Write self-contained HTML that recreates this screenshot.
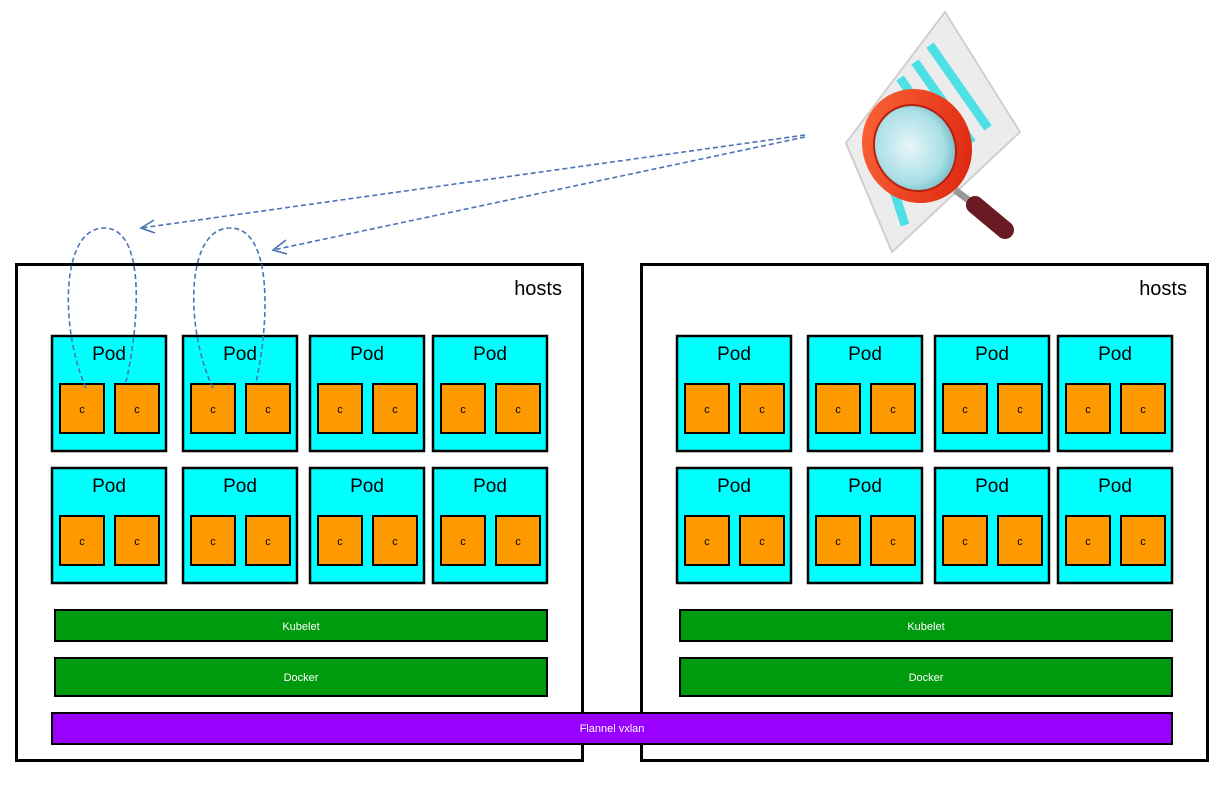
<!DOCTYPE html>
<html><head><meta charset="utf-8"><style>
html,body{margin:0;padding:0;background:#fff;}
svg{display:block;}
text{font-family:"Liberation Sans",sans-serif;}
.p{fill:#00ffff;stroke:#000;stroke-width:2.5}
.c{fill:#ff9900;stroke:#000;stroke-width:2}
.pt{font-size:19px;text-anchor:middle;fill:#000}
.ct{font-size:11px;text-anchor:middle;fill:#000}
</style></head><body>
<svg width="1228" height="798" viewBox="0 0 1228 798" xmlns="http://www.w3.org/2000/svg">
<defs>
<radialGradient id="lens" cx="45%" cy="45%" r="60%">
<stop offset="0" stop-color="#e8f6f8"/><stop offset="0.7" stop-color="#a9dfe6"/><stop offset="1" stop-color="#6fb7c2"/>
</radialGradient>
<linearGradient id="ring" x1="0" y1="0" x2="1" y2="1">
<stop offset="0" stop-color="#ff6a3a"/><stop offset="1" stop-color="#d8200c"/>
</linearGradient>
</defs>
<rect x="16.5" y="264.5" width="566" height="496" fill="#fff" stroke="#000" stroke-width="3"/>
<rect x="641.5" y="264.5" width="566" height="496" fill="#fff" stroke="#000" stroke-width="3"/>
<text x="562" y="295" font-size="20" text-anchor="end" fill="#000">hosts</text>
<text x="1187" y="295" font-size="20" text-anchor="end" fill="#000">hosts</text>

<g transform="translate(52,336)"><rect class="p" width="114" height="115"/><text class="pt" x="57" y="24">Pod</text><rect class="c" x="8" y="48" width="44" height="49"/><rect class="c" x="63" y="48" width="44" height="49"/><text class="ct" x="30" y="77">c</text><text class="ct" x="85" y="77">c</text></g>
<g transform="translate(183,336)"><rect class="p" width="114" height="115"/><text class="pt" x="57" y="24">Pod</text><rect class="c" x="8" y="48" width="44" height="49"/><rect class="c" x="63" y="48" width="44" height="49"/><text class="ct" x="30" y="77">c</text><text class="ct" x="85" y="77">c</text></g>
<g transform="translate(310,336)"><rect class="p" width="114" height="115"/><text class="pt" x="57" y="24">Pod</text><rect class="c" x="8" y="48" width="44" height="49"/><rect class="c" x="63" y="48" width="44" height="49"/><text class="ct" x="30" y="77">c</text><text class="ct" x="85" y="77">c</text></g>
<g transform="translate(433,336)"><rect class="p" width="114" height="115"/><text class="pt" x="57" y="24">Pod</text><rect class="c" x="8" y="48" width="44" height="49"/><rect class="c" x="63" y="48" width="44" height="49"/><text class="ct" x="30" y="77">c</text><text class="ct" x="85" y="77">c</text></g>
<g transform="translate(52,468)"><rect class="p" width="114" height="115"/><text class="pt" x="57" y="24">Pod</text><rect class="c" x="8" y="48" width="44" height="49"/><rect class="c" x="63" y="48" width="44" height="49"/><text class="ct" x="30" y="77">c</text><text class="ct" x="85" y="77">c</text></g>
<g transform="translate(183,468)"><rect class="p" width="114" height="115"/><text class="pt" x="57" y="24">Pod</text><rect class="c" x="8" y="48" width="44" height="49"/><rect class="c" x="63" y="48" width="44" height="49"/><text class="ct" x="30" y="77">c</text><text class="ct" x="85" y="77">c</text></g>
<g transform="translate(310,468)"><rect class="p" width="114" height="115"/><text class="pt" x="57" y="24">Pod</text><rect class="c" x="8" y="48" width="44" height="49"/><rect class="c" x="63" y="48" width="44" height="49"/><text class="ct" x="30" y="77">c</text><text class="ct" x="85" y="77">c</text></g>
<g transform="translate(433,468)"><rect class="p" width="114" height="115"/><text class="pt" x="57" y="24">Pod</text><rect class="c" x="8" y="48" width="44" height="49"/><rect class="c" x="63" y="48" width="44" height="49"/><text class="ct" x="30" y="77">c</text><text class="ct" x="85" y="77">c</text></g>
<g transform="translate(677,336)"><rect class="p" width="114" height="115"/><text class="pt" x="57" y="24">Pod</text><rect class="c" x="8" y="48" width="44" height="49"/><rect class="c" x="63" y="48" width="44" height="49"/><text class="ct" x="30" y="77">c</text><text class="ct" x="85" y="77">c</text></g>
<g transform="translate(808,336)"><rect class="p" width="114" height="115"/><text class="pt" x="57" y="24">Pod</text><rect class="c" x="8" y="48" width="44" height="49"/><rect class="c" x="63" y="48" width="44" height="49"/><text class="ct" x="30" y="77">c</text><text class="ct" x="85" y="77">c</text></g>
<g transform="translate(935,336)"><rect class="p" width="114" height="115"/><text class="pt" x="57" y="24">Pod</text><rect class="c" x="8" y="48" width="44" height="49"/><rect class="c" x="63" y="48" width="44" height="49"/><text class="ct" x="30" y="77">c</text><text class="ct" x="85" y="77">c</text></g>
<g transform="translate(1058,336)"><rect class="p" width="114" height="115"/><text class="pt" x="57" y="24">Pod</text><rect class="c" x="8" y="48" width="44" height="49"/><rect class="c" x="63" y="48" width="44" height="49"/><text class="ct" x="30" y="77">c</text><text class="ct" x="85" y="77">c</text></g>
<g transform="translate(677,468)"><rect class="p" width="114" height="115"/><text class="pt" x="57" y="24">Pod</text><rect class="c" x="8" y="48" width="44" height="49"/><rect class="c" x="63" y="48" width="44" height="49"/><text class="ct" x="30" y="77">c</text><text class="ct" x="85" y="77">c</text></g>
<g transform="translate(808,468)"><rect class="p" width="114" height="115"/><text class="pt" x="57" y="24">Pod</text><rect class="c" x="8" y="48" width="44" height="49"/><rect class="c" x="63" y="48" width="44" height="49"/><text class="ct" x="30" y="77">c</text><text class="ct" x="85" y="77">c</text></g>
<g transform="translate(935,468)"><rect class="p" width="114" height="115"/><text class="pt" x="57" y="24">Pod</text><rect class="c" x="8" y="48" width="44" height="49"/><rect class="c" x="63" y="48" width="44" height="49"/><text class="ct" x="30" y="77">c</text><text class="ct" x="85" y="77">c</text></g>
<g transform="translate(1058,468)"><rect class="p" width="114" height="115"/><text class="pt" x="57" y="24">Pod</text><rect class="c" x="8" y="48" width="44" height="49"/><rect class="c" x="63" y="48" width="44" height="49"/><text class="ct" x="30" y="77">c</text><text class="ct" x="85" y="77">c</text></g>

<rect x="55" y="610" width="492" height="31" fill="#009a0e" stroke="#000" stroke-width="2"/>
<rect x="55" y="658" width="492" height="38" fill="#009a0e" stroke="#000" stroke-width="2"/>
<rect x="680" y="610" width="492" height="31" fill="#009a0e" stroke="#000" stroke-width="2"/>
<rect x="680" y="658" width="492" height="38" fill="#009a0e" stroke="#000" stroke-width="2"/>
<rect x="52" y="713" width="1120" height="31" fill="#9900ff" stroke="#000" stroke-width="2"/>
<g fill="#fff" font-size="11" text-anchor="middle">
<text x="301" y="630">Kubelet</text><text x="301" y="681">Docker</text>
<text x="926" y="630">Kubelet</text><text x="926" y="681">Docker</text>
<text x="612" y="732">Flannel vxlan</text>
</g>
<polygon points="945,12 1020,132 892,252 846,143" fill="#ececec" stroke="#cfcfcf" stroke-width="2"/>
<g stroke="#4fe0e6" stroke-width="9">
<line x1="930" y1="45" x2="988" y2="128"/>
<line x1="915" y1="62" x2="972" y2="143"/>
<line x1="900" y1="78" x2="955" y2="158"/>
<line x1="884" y1="160" x2="905" y2="225"/>
</g>
<line x1="955" y1="190" x2="975" y2="205" stroke="#999" stroke-width="7"/>
<line x1="975" y1="205" x2="1005" y2="230" stroke="#6a1a22" stroke-width="18" stroke-linecap="round"/>
<ellipse cx="917" cy="146" rx="54" ry="58" fill="url(#ring)" transform="rotate(-30 917 146)"/>
<ellipse cx="915" cy="148" rx="40" ry="44" fill="url(#lens)" stroke="#b52010" stroke-width="2" transform="rotate(-30 915 148)"/>
<g stroke="#4a74b4" stroke-width="1.6" fill="none" stroke-dasharray="5,3">
<line x1="805" y1="135" x2="141" y2="228"/>
<line x1="805" y1="137" x2="273" y2="250"/>
<path d="M86,388 C60,330 60,228 104,228 C148,228 138,330 126,382"/>
<path d="M213,388 C185,330 185,228 230,228 C275,228 268,330 256,382"/>
</g>
<g stroke="#4a74b4" stroke-width="1.6" fill="none">
<polyline points="154,220 141,228 155,233"/>
<polyline points="286,240 273,250 287,254"/>
</g>
</svg>
</body></html>
